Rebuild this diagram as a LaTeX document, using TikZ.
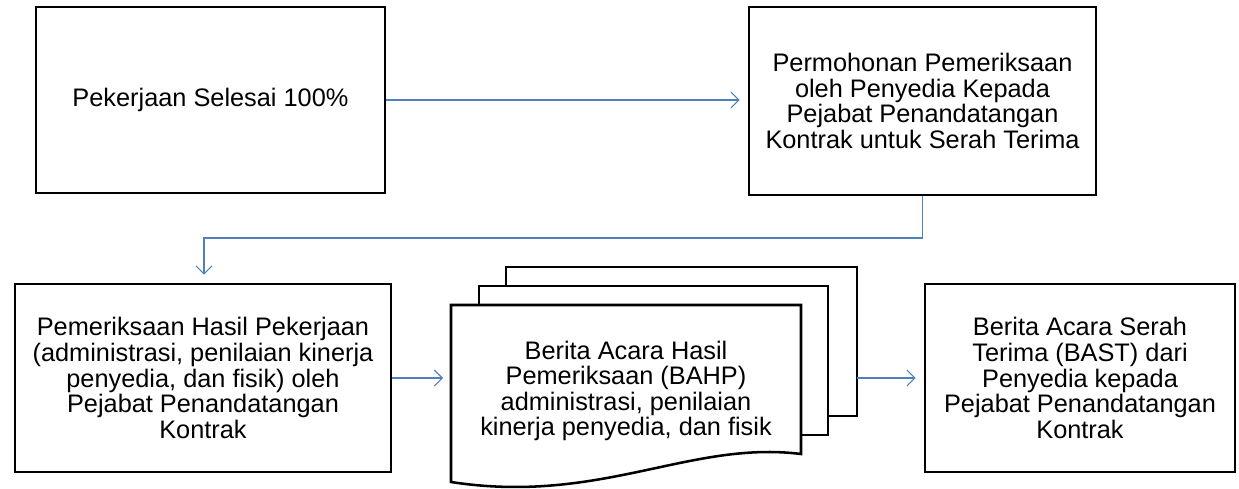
\documentclass[tikz,border=0pt]{standalone}
\usepackage{fontspec}
\setmainfont{Liberation Sans}
\usetikzlibrary{arrows.meta}
\definecolor{conn}{RGB}{79,129,189}
\begin{document}
\begin{tikzpicture}[x=0.75pt,y=-0.75pt,
  box/.style={draw=black,line width=1.9pt,fill=white,align=center,inner sep=0pt,
    font=\fontsize{19}{19.2}\selectfont},
  doc/.style={draw=black,line width=1.9pt,fill=white},
  txt/.style={align=center,inner sep=0pt,font=\fontsize{19}{19.2}\selectfont},
  link/.style={draw=conn,line width=0.8pt,-{Straight Barb[length=6pt,width=12pt]},shorten >=6pt}]
\useasboundingbox (0,0) rectangle (1239,489);
\node[box,minimum width=261.75pt,minimum height=139.5pt] (A) at (210.5,100) {Pekerjaan Selesai 100\%};
\node[box,minimum width=260.25pt,minimum height=141pt] (B) at (922.5,101) {Permohonan Pemeriksaan\\oleh Penyedia Kepada\\Pejabat Penandatangan\\Kontrak untuk Serah Terima};
\node[box,minimum width=282pt,minimum height=141pt] (C) at (203,378) {Pemeriksaan Hasil Pekerjaan\\(administrasi, penilaian kinerja\\penyedia, dan fisik) oleh\\Pejabat Penandatangan\\Kontrak};
\node[box,minimum width=232.5pt,minimum height=141pt] (E) at (1080,378) {Berita Acara Serah\\Terima (BAST) dari\\Penyedia kepada\\Pejabat Penandatangan\\Kontrak};
% multi-document
\draw[doc] (506,267) rectangle (857,416);
\draw[doc] (479,286) rectangle (828,435);
\draw[doc] (451,305) -- (801,305) -- (801,454) .. controls (690,440) and (600,505) .. (451,482) -- cycle;
\node[txt] (D) at (626,391) {Berita Acara Hasil\\Pemeriksaan (BAHP)\\administrasi, penilaian\\kinerja penyedia, dan fisik};
\coordinate (Din) at (451,378);
\coordinate (Dout) at (857,378);
\coordinate (bend1) at (922.5,238);
\coordinate (bend2) at (204,238);
% connectors
\draw[link] (A.east |- 0,100) -- (B.west |- 0,100);
\draw[link] (B.south) -- (bend1) -- (bend2) -- (bend2 |- C.north);
\draw[link] (C.east) -- (Din);
\draw[link] (Dout) -- (E.west);
\end{tikzpicture}
\end{document}
